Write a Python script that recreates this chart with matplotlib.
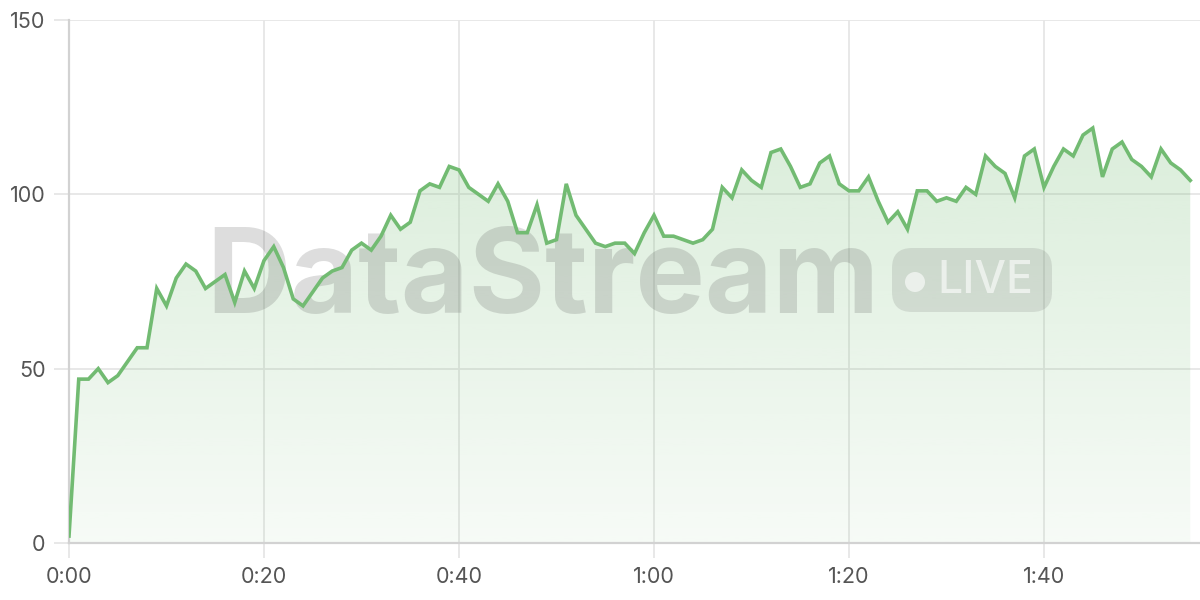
import numpy as np
import matplotlib
matplotlib.use("Agg")
from matplotlib import pyplot as plt
from matplotlib.patches import FancyBboxPatch, Circle
from matplotlib.ticker import FuncFormatter
from matplotlib.colors import to_rgb

# seconds since start, one sample per second
values = [2, 47, 47, 50, 46, 48, 52, 56, 56, 73,
          68, 76, 80, 78, 73, 75, 77, 69, 78, 73,
          81, 85, 79, 70, 68, 72, 76, 78, 79, 84,
          86, 84, 88, 94, 90, 92, 101, 103, 102, 108,
          107, 102, 100, 98, 103, 98, 89, 89, 97, 86,
          87, 103, 94, 90, 86, 85, 86, 86, 83, 89,
          94, 88, 88, 87, 86, 87, 90, 102, 99, 107,
          104, 102, 112, 113, 108, 102, 103, 109, 111, 103,
          101, 101, 105, 98, 92, 95, 90, 101, 101, 98,
          99, 98, 102, 100, 111, 108, 106, 99, 111, 113,
          102, 108, 113, 111, 117, 119, 105, 113, 115, 110,
          108, 105, 113, 109, 107, 104]
times = np.arange(len(values))
y_ticks = [0, 50, 100, 150]
x_ticks = [0, 20, 40, 60, 80, 100]

line_color = "#72bb72"
grid_color = "#e6e6e6"
text_color = "#555555"

plt.rcParams['font.family'] = ['Inter', 'DejaVu Sans']

fig = plt.figure(figsize=(12, 6), dpi=100)
ax = fig.add_axes([69 / 1200, 57 / 600, 1 - 69 / 1200, (543 - 20) / 600])

# gradient fill under the line
poly = ax.fill_between(times, values, 0, color="none", lw=0)
r, g, b = to_rgb(line_color)
grad = np.zeros((256, 1, 4))
grad[:, 0, 0] = r
grad[:, 0, 1] = g
grad[:, 0, 2] = b
grad[:, 0, 3] = np.linspace(0.26, 0.06, 256)
img = ax.imshow(grad, extent=[0, times[-1], 0, 120], origin="upper",
                aspect="auto", zorder=1)
img.set_clip_path(poly.get_paths()[0], transform=ax.transData)
ax.set_xlim(0, 116)
ax.set_ylim(0, 150)

ax.plot(times, values, color=line_color, lw=2.6, zorder=4,
        solid_joinstyle="miter")

# grid and axes
ax.set_yticks(y_ticks)
ax.set_xticks(x_ticks)
ax.xaxis.set_major_formatter(FuncFormatter(lambda v, p: "%d:%02d" % (v // 60, v % 60)))
ax.grid(True, color=grid_color, lw=1.3, zorder=0)
ax.set_axisbelow(True)
for s in ["top", "right"]:
    ax.spines[s].set_visible(False)
for s in ["left", "bottom"]:
    ax.spines[s].set_color("#d2d2d2")
    ax.spines[s].set_linewidth(1.6)
ax.tick_params(axis="both", length=11, width=1.3, color=grid_color,
               labelcolor=text_color, labelsize=15.5, pad=6)

# watermark under the line (positions in inches from lower-left of figure)
inch = fig.dpi_scale_trans
ax.text(5.425, 3.18, "DataStream", transform=inch, ha="center",
        va="center", fontsize=84, fontweight="bold", color="#555555",
        alpha=0.2, zorder=3, clip_on=False)
badge = FancyBboxPatch((8.92, 2.88), 1.60, 0.64,
                       boxstyle="round,pad=0,rounding_size=0.2",
                       transform=inch, facecolor="#555555",
                       alpha=0.15, edgecolor="none", zorder=3, clip_on=False)
ax.add_patch(badge)
ax.add_patch(Circle((9.15, 3.18), 0.10, transform=inch, facecolor="white",
                    alpha=0.6, edgecolor="none", zorder=3, clip_on=False))
ax.text(9.855, 3.19, "LIVE", transform=inch, ha="center", va="center",
        fontsize=32, fontweight="medium", color="white", alpha=0.6, zorder=3,
        clip_on=False)

fig.savefig("out.png", dpi=100)
